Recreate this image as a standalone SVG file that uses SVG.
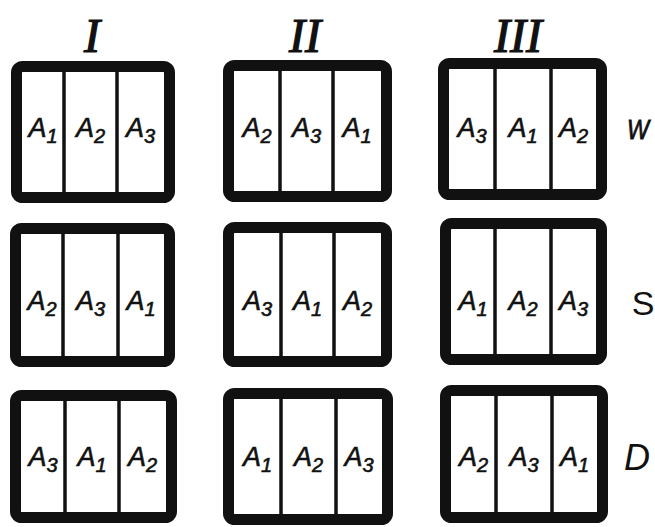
<svg xmlns="http://www.w3.org/2000/svg" width="655" height="527" viewBox="0 0 655 527">
<style>
.frame{fill:#fff;stroke:#111;stroke-width:11;stroke-linejoin:round}
.div{stroke:#111;stroke-width:3.5}
.lab{font-family:"Liberation Sans",Arial,sans-serif;font-style:italic;font-size:27px;fill:#111;stroke:#111;stroke-width:0.6;text-anchor:middle}
.sub{font-size:20px}
.roman{font-family:"Liberation Serif","Times New Roman",serif;font-style:italic;font-size:48px;fill:#111;stroke:#111;stroke-width:1.2;text-anchor:middle}
.row{font-family:"Liberation Sans",Arial,sans-serif;fill:#111;text-anchor:middle}
</style>
<rect width="655" height="527" fill="#fff"/>
<g id="headers">
<text class="roman" x="92" y="52">I</text>
<text class="roman" x="305" y="52">II</text>
<text class="roman" x="518" y="52">III</text>
</g>
<g id="rowlabels">
<text class="row" x="638" y="139" font-size="28" font-style="italic" stroke="#111" stroke-width="0.8" textLength="22" lengthAdjust="spacingAndGlyphs">W</text>
<text class="row" x="643" y="315" font-size="34">S</text>
<text class="row" x="637" y="470" font-size="36" font-style="italic" font-family="Liberation Serif, serif">D</text>
</g>
<g id="box-W-I">
<rect class="frame" x="16.5" y="66.5" width="153" height="131" rx="6"/>
<line class="div" x1="64" y1="62" x2="64" y2="202"/><line class="div" x1="117" y1="62" x2="117" y2="202"/>
<text class="lab" x="43" y="137">A<tspan class="sub" dy="6">1</tspan></text>
<text class="lab" x="90.5" y="137">A<tspan class="sub" dy="6">2</tspan></text>
<text class="lab" x="140.5" y="137">A<tspan class="sub" dy="6">3</tspan></text>
</g>
<g id="box-W-II">
<rect class="frame" x="228.5" y="65.5" width="158" height="131" rx="6"/>
<line class="div" x1="280" y1="61" x2="280" y2="201"/><line class="div" x1="333" y1="61" x2="333" y2="201"/>
<text class="lab" x="257" y="137">A<tspan class="sub" dy="6">2</tspan></text>
<text class="lab" x="306.5" y="137">A<tspan class="sub" dy="6">3</tspan></text>
<text class="lab" x="357" y="137">A<tspan class="sub" dy="6">1</tspan></text>
</g>
<g id="box-W-III">
<rect class="frame" x="443.5" y="63.5" width="158" height="131" rx="6"/>
<line class="div" x1="495" y1="59" x2="495" y2="199"/><line class="div" x1="551" y1="59" x2="551" y2="199"/>
<text class="lab" x="472" y="137">A<tspan class="sub" dy="6">3</tspan></text>
<text class="lab" x="523" y="137">A<tspan class="sub" dy="6">1</tspan></text>
<text class="lab" x="573.5" y="137">A<tspan class="sub" dy="6">2</tspan></text>
</g>
<g id="box-S-I">
<rect class="frame" x="15.5" y="228.5" width="154" height="133" rx="6"/>
<line class="div" x1="63" y1="224" x2="63" y2="366"/><line class="div" x1="118" y1="224" x2="118" y2="366"/>
<text class="lab" x="42" y="310">A<tspan class="sub" dy="6">2</tspan></text>
<text class="lab" x="90.5" y="310">A<tspan class="sub" dy="6">3</tspan></text>
<text class="lab" x="141" y="310">A<tspan class="sub" dy="6">1</tspan></text>
</g>
<g id="box-S-II">
<rect class="frame" x="228.5" y="227.5" width="158" height="134" rx="6"/>
<line class="div" x1="281" y1="223" x2="281" y2="366"/><line class="div" x1="334" y1="223" x2="334" y2="366"/>
<text class="lab" x="257.5" y="310">A<tspan class="sub" dy="6">3</tspan></text>
<text class="lab" x="307.5" y="310">A<tspan class="sub" dy="6">1</tspan></text>
<text class="lab" x="357.5" y="310">A<tspan class="sub" dy="6">2</tspan></text>
</g>
<g id="box-S-III">
<rect class="frame" x="445.5" y="223.5" width="156" height="136" rx="6"/>
<line class="div" x1="495" y1="219" x2="495" y2="364"/><line class="div" x1="551" y1="219" x2="551" y2="364"/>
<text class="lab" x="473" y="310">A<tspan class="sub" dy="6">1</tspan></text>
<text class="lab" x="523" y="310">A<tspan class="sub" dy="6">2</tspan></text>
<text class="lab" x="573.5" y="310">A<tspan class="sub" dy="6">3</tspan></text>
</g>
<g id="box-D-I">
<rect class="frame" x="15.5" y="395.5" width="156" height="122" rx="6"/>
<line class="div" x1="65" y1="391" x2="65" y2="522"/><line class="div" x1="119" y1="391" x2="119" y2="522"/>
<text class="lab" x="43" y="466">A<tspan class="sub" dy="6">3</tspan></text>
<text class="lab" x="92" y="466">A<tspan class="sub" dy="6">1</tspan></text>
<text class="lab" x="142.5" y="466">A<tspan class="sub" dy="6">2</tspan></text>
</g>
<g id="box-D-II">
<rect class="frame" x="228.5" y="393.5" width="159" height="126" rx="6"/>
<line class="div" x1="281" y1="389" x2="281" y2="524"/><line class="div" x1="336" y1="389" x2="336" y2="524"/>
<text class="lab" x="257.5" y="466">A<tspan class="sub" dy="6">1</tspan></text>
<text class="lab" x="308.5" y="466">A<tspan class="sub" dy="6">2</tspan></text>
<text class="lab" x="359" y="466">A<tspan class="sub" dy="6">3</tspan></text>
</g>
<g id="box-D-III">
<rect class="frame" x="445.5" y="390.5" width="157" height="127" rx="6"/>
<line class="div" x1="496" y1="386" x2="496" y2="522"/><line class="div" x1="552" y1="386" x2="552" y2="522"/>
<text class="lab" x="473.5" y="466">A<tspan class="sub" dy="6">2</tspan></text>
<text class="lab" x="524" y="466">A<tspan class="sub" dy="6">3</tspan></text>
<text class="lab" x="574.5" y="466">A<tspan class="sub" dy="6">1</tspan></text>
</g>
<g id="connectors"/>
</svg>
